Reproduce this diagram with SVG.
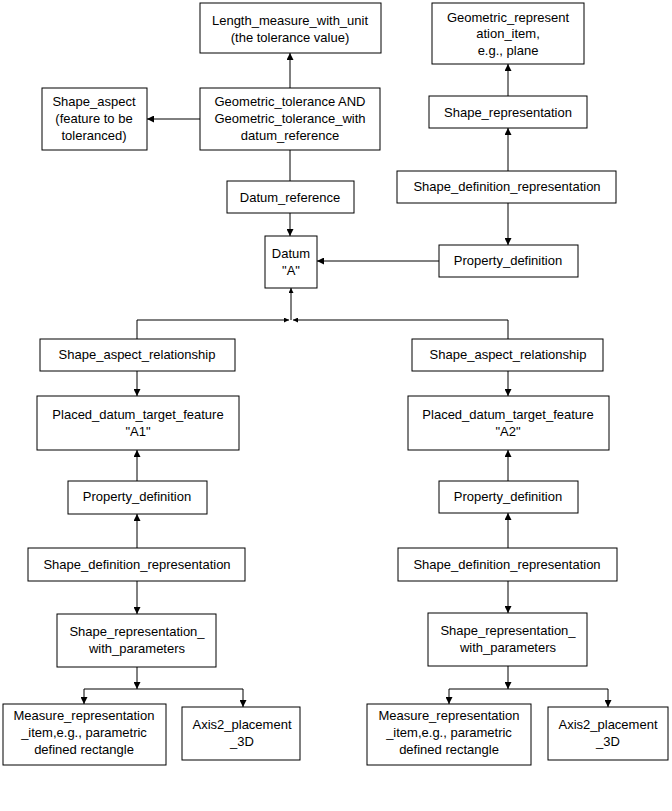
<svg xmlns="http://www.w3.org/2000/svg" width="672" height="811" viewBox="0 0 672 811">
<defs>
<marker id="a" viewBox="0 0 10 10" refX="10" refY="5" markerWidth="7" markerHeight="7" orient="auto-start-reverse" markerUnits="userSpaceOnUse"><path d="M0,0L10,5L0,10z" fill="#000"/></marker>
<marker id="s" viewBox="0 0 10 10" refX="10" refY="5" markerWidth="5" markerHeight="5" orient="auto" markerUnits="userSpaceOnUse"><path d="M0,0L10,5L0,10z" fill="#000"/></marker>
</defs>
<style>
rect{fill:#fff;stroke:#000;stroke-width:1}
text{font-family:"Liberation Sans",Arial,sans-serif;font-size:13px;fill:#000;text-anchor:middle}
.c line,.c polyline{stroke:#000;stroke-width:1;fill:none}
</style>
<rect width="672" height="811" style="stroke:none"/>
<g class="c">
<line x1="290" y1="88" x2="290" y2="53" marker-end="url(#a)"/>
<line x1="200" y1="119" x2="147" y2="119" marker-end="url(#a)"/>
<line x1="290" y1="150" x2="290" y2="181"/>
<line x1="290" y1="213" x2="290" y2="236" marker-end="url(#a)"/>
<line x1="439" y1="261" x2="317" y2="261" marker-end="url(#a)"/>
<line x1="508" y1="96" x2="508" y2="64" marker-end="url(#a)"/>
<line x1="508" y1="171" x2="508" y2="128" marker-end="url(#a)"/>
<line x1="508" y1="203" x2="508" y2="245" marker-end="url(#a)"/>
<line x1="291" y1="320" x2="291" y2="288" marker-end="url(#s)"/>
<polyline points="137,339 137,320 289,320" marker-end="url(#s)"/>
<polyline points="508,339 508,320 293,320" marker-end="url(#s)"/>
<line x1="137" y1="371" x2="137" y2="396" marker-end="url(#a)"/>
<line x1="508" y1="371" x2="508" y2="396" marker-end="url(#a)"/>
<line x1="137" y1="481" x2="137" y2="450" marker-end="url(#a)"/>
<line x1="508" y1="481" x2="508" y2="450" marker-end="url(#a)"/>
<line x1="137" y1="548" x2="137" y2="514" marker-end="url(#a)"/>
<line x1="508" y1="548" x2="508" y2="513" marker-end="url(#a)"/>
<line x1="137" y1="581" x2="137" y2="614" marker-end="url(#a)"/>
<line x1="508" y1="581" x2="508" y2="613" marker-end="url(#a)"/>
<line x1="137" y1="667" x2="137" y2="689" marker-end="url(#a)"/>
<polyline points="84,704 84,689 243,689 243,707" marker-start="url(#a)" marker-end="url(#a)"/>
<line x1="508" y1="666" x2="508" y2="689" marker-end="url(#a)"/>
<polyline points="449,704 449,689 608,689 608,707" marker-start="url(#a)" marker-end="url(#a)"/>
</g>
<g id="n1"><rect x="200" y="3" width="181" height="50"/><text x="290" y="25">Length_measure_with_unit</text><text x="290" y="42">(the tolerance value)</text></g>
<g id="n2"><rect x="200" y="88" width="180" height="62"/><text x="290" y="106">Geometric_tolerance AND</text><text x="290" y="123">Geometric_tolerance_with</text><text x="290" y="140">datum_reference</text></g>
<g id="n3"><rect x="42" y="88" width="105" height="62"/><text x="94" y="106">Shape_aspect</text><text x="94" y="123">(feature to be</text><text x="94" y="140">toleranced)</text></g>
<g id="n4"><rect x="227" y="181" width="127" height="32"/><text x="290" y="202">Datum_reference</text></g>
<g id="n5"><rect x="265" y="236" width="52" height="52"/><text x="291" y="258">Datum</text><text x="291" y="275">"A"</text></g>
<g id="n6"><rect x="432" y="3" width="152" height="61"/><text x="508" y="22">Geometric_represent</text><text x="508" y="38">ation_item,</text><text x="508" y="55">e.g., plane</text></g>
<g id="n7"><rect x="429" y="96" width="158" height="32"/><text x="508" y="117">Shape_representation</text></g>
<g id="n8"><rect x="397" y="171" width="219" height="32"/><text x="507" y="191">Shape_definition_representation</text></g>
<g id="n9"><rect x="439" y="245" width="139" height="32"/><text x="508" y="265">Property_definition</text></g>
<g id="n10"><rect x="40" y="339" width="195" height="32"/><text x="137" y="359">Shape_aspect_relationship</text></g>
<g id="n11"><rect x="412" y="339" width="191" height="32"/><text x="508" y="359">Shape_aspect_relationship</text></g>
<g id="n12"><rect x="37" y="396" width="202" height="54"/><text x="138" y="419">Placed_datum_target_feature</text><text x="138" y="436">"A1"</text></g>
<g id="n13"><rect x="408" y="396" width="201" height="54"/><text x="508" y="419">Placed_datum_target_feature</text><text x="508" y="436">"A2"</text></g>
<g id="n14"><rect x="68" y="481" width="139" height="33"/><text x="137" y="501">Property_definition</text></g>
<g id="n15"><rect x="439" y="481" width="139" height="32"/><text x="508" y="501">Property_definition</text></g>
<g id="n16"><rect x="28" y="548" width="217" height="33"/><text x="137" y="569">Shape_definition_representation</text></g>
<g id="n17"><rect x="398" y="548" width="219" height="33"/><text x="507" y="569">Shape_definition_representation</text></g>
<g id="n18"><rect x="57" y="614" width="159" height="53"/><text x="137" y="636">Shape_representation_</text><text x="137" y="653">with_parameters</text></g>
<g id="n19"><rect x="428" y="613" width="159" height="53"/><text x="508" y="635">Shape_representation_</text><text x="508" y="652">with_parameters</text></g>
<g id="n20"><rect x="3" y="704" width="163" height="61"/><text x="84" y="720">Measure_representation</text><text x="84" y="737">_item,e.g., parametric</text><text x="84" y="754">defined rectangle</text></g>
<g id="n21"><rect x="182" y="707" width="118" height="53"/><text x="242" y="729">Axis2_placement</text><text x="242" y="746">_3D</text></g>
<g id="n22"><rect x="367" y="704" width="164" height="61"/><text x="449" y="720">Measure_representation</text><text x="449" y="737">_item,e.g., parametric</text><text x="449" y="754">defined rectangle</text></g>
<g id="n23"><rect x="548" y="707" width="120" height="53"/><text x="608" y="729">Axis2_placement</text><text x="608" y="746">_3D</text></g>
</svg>
